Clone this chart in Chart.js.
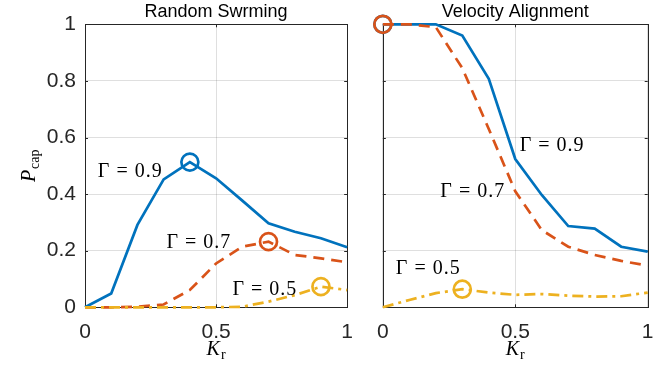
<!DOCTYPE html>
<html>
<head>
<meta charset="utf-8">
<script src="https://cdn.jsdelivr.net/npm/chart.js@4/dist/chart.umd.min.js"></script>
<style>
    html, body { margin: 0; padding: 0; background: #fff; }
    #wrap { position: relative; width: 669px; height: 373px; }
    .panel { position: absolute; top: 0; height: 373px; }
</style>
</head>
<body>
<div id="wrap">
    <div class="panel" style="left:0;width:365px"><canvas id="left" width="365" height="373"></canvas></div>
    <div class="panel" style="left:365px;width:304px"><canvas id="right" width="304" height="373"></canvas></div>
</div>
<script>
// valores
const kr = [0, 0.1, 0.2, 0.3, 0.4, 0.5, 0.6, 0.7, 0.8, 0.9, 1];
const xTicks = [0, 0.5, 1];
const xTickLabels = ['0', '0.5', '1'];
const yTicks = [0, 0.2, 0.4, 0.6, 0.8, 1];
const yTickLabels = ['0', '0.2', '0.4', '0.6', '0.8', '1'];
const gammaLabels = ['Γ = 0.9', 'Γ = 0.7', 'Γ = 0.5'];

// Random Swrming
const randomG09 = [0, 0.049, 0.291, 0.452, 0.513, 0.456, 0.377, 0.297, 0.267, 0.244, 0.212];
const randomG07 = [0, 0, 0.002, 0.01, 0.061, 0.155, 0.214, 0.232, 0.185, 0.173, 0.159];
const randomG05 = [0, 0, 0, 0, 0, 0, 0.002, 0.02, 0.043, 0.073, 0.061];

// Velocity Alignment
const alignG09 = [1, 1, 1, 0.96, 0.807, 0.524, 0.397, 0.287, 0.278, 0.214, 0.197];
const alignG07 = [1, 1, 0.99, 0.845, 0.63, 0.41, 0.273, 0.214, 0.185, 0.164, 0.147];
const alignG05 = [0, 0.026, 0.05, 0.064, 0.052, 0.044, 0.047, 0.041, 0.038, 0.039, 0.052];

// posição dos rótulos Γ (coordenadas dos dados: x, linha de base y)
const randomLabelPos = [[0.049, 0.46], [0.311, 0.21], [0.5625, 0.043]];
const alignLabelPos = [[0.517, 0.552], [0.217, 0.39], [0.049, 0.118]];

const colors = ['#0072BD', '#D95319', '#EDB120'];
const dashes = [[], [11, 7], [11, 5, 3, 5]];
const axisColor = '#262626';
const gridColor = 'rgba(38,38,38,0.15)';
const serif = '"Liberation Serif", "Times New Roman", serif';
const sans = '"Liberation Sans", Arial, sans-serif';

function argmax(arr) {
    let best = 0;
    arr.forEach((v, i) => { if (v > arr[best]) best = i; });
    return best;
}

// moldura, marcas dos ticks e textos em LaTeX-like
function framePlugin(labelPos, showYLabel) {
    return {
        id: 'frame',
        beforeDatasetsDraw(chart) {
            const a = chart.chartArea;
            const ctx = chart.ctx;
            const xs = chart.scales.x, ys = chart.scales.y;
            ctx.save();
            ctx.strokeStyle = axisColor;
            ctx.lineWidth = 1;
            ctx.beginPath();
            yTicks.forEach(v => {
                const y = Math.round(ys.getPixelForValue(v)) + 0.5;
                ctx.moveTo(a.left, y); ctx.lineTo(a.left + 3, y);
                ctx.moveTo(a.right, y); ctx.lineTo(a.right - 3, y);
            });
            xTicks.forEach(v => {
                const x = Math.round(xs.getPixelForValue(v)) + 0.5;
                ctx.moveTo(x, a.bottom); ctx.lineTo(x, a.bottom - 3);
                ctx.moveTo(x, a.top); ctx.lineTo(x, a.top + 3);
            });
            ctx.stroke();
            ctx.strokeRect(Math.round(a.left) + 0.5, Math.round(a.top) + 0.5,
                Math.round(a.right - a.left), Math.round(a.bottom - a.top));
            ctx.restore();
        },
        afterDraw(chart) {
            const a = chart.chartArea;
            const ctx = chart.ctx;
            const xs = chart.scales.x, ys = chart.scales.y;
            ctx.save();
            ctx.fillStyle = '#000';
            ctx.textBaseline = 'alphabetic';
            ctx.textAlign = 'left';

            // rótulos Γ
            ctx.font = '20px ' + serif;
            ctx.letterSpacing = '1px';
            gammaLabels.forEach((t, i) => {
                ctx.fillText(t, xs.getPixelForValue(labelPos[i][0]), ys.getPixelForValue(labelPos[i][1]));
            });
            ctx.letterSpacing = '0px';

            // K_r
            ctx.font = 'italic 20px ' + serif;
            const wK = ctx.measureText('K').width;
            ctx.font = '14px ' + serif;
            const wr = ctx.measureText('r').width;
            const cx = (a.left + a.right) / 2;
            const x0 = cx - (wK + 1 + wr) / 2;
            ctx.font = 'italic 20px ' + serif;
            ctx.fillText('K', x0, 355);
            ctx.font = '14px ' + serif;
            ctx.fillText('r', x0 + wK + 1, 359);

            // P_cap
            if (showYLabel) {
                ctx.translate(35, (a.top + a.bottom) / 2);
                ctx.rotate(-Math.PI / 2);
                ctx.font = 'italic 20px ' + serif;
                const wP = ctx.measureText('P').width;
                ctx.font = '14px ' + serif;
                const wc = ctx.measureText('cap').width;
                const p0 = -(wP + 1 + wc) / 2;
                ctx.font = 'italic 20px ' + serif;
                ctx.fillText('P', p0, 0);
                ctx.font = '14px ' + serif;
                ctx.fillText('cap', p0 + wP + 1, 4);
            }
            ctx.restore();
        }
    };
}

function makeChart(id, title, series, labelPos, yWidth, padRight, showYLabels) {
    const datasets = series.map((s, k) => {
        const peak = argmax(s);
        return {
            data: s.map((v, i) => ({ x: kr[i], y: v })),
            borderColor: colors[k],
            borderWidth: 2.7,
            borderDash: dashes[k],
            tension: 0,
            clip: false,
            order: 3 - k,
            pointRadius: ctx => ctx.dataIndex === peak ? 8.5 : 0,
            pointHoverRadius: ctx => ctx.dataIndex === peak ? 8.5 : 0,
            pointBorderWidth: 2.7,
            pointBorderColor: colors[k],
            pointBackgroundColor: 'rgba(0,0,0,0)'
        };
    });

    return new Chart(document.getElementById(id), {
        type: 'line',
        data: { datasets: datasets },
        options: {
            responsive: false,
            animation: false,
            events: [],
            layout: { padding: { left: 0, right: padRight, top: 0, bottom: 0 } },
            plugins: {
                legend: { display: false },
                tooltip: { enabled: false },
                title: {
                    display: true,
                    text: title,
                    fullSize: false,
                    color: '#000',
                    font: { family: sans, size: 18, weight: 'normal' },
                    padding: { top: 1, bottom: 1.7 }
                }
            },
            scales: {
                x: {
                    type: 'linear',
                    min: 0,
                    max: 1,
                    afterBuildTicks: s => { s.ticks = xTicks.map(v => ({ value: v })); },
                    afterFit: s => { s.height = 65.7; },
                    ticks: {
                        callback: (v, i) => xTickLabels[i],
                        color: axisColor,
                        font: { family: sans, size: 21 },
                        padding: 12,
                        maxRotation: 0,
                        autoSkip: false
                    },
                    grid: { color: gridColor, drawTicks: false },
                    border: { display: false }
                },
                y: {
                    type: 'linear',
                    min: 0,
                    max: 1,
                    afterBuildTicks: s => { s.ticks = yTicks.map(v => ({ value: v })); },
                    afterFit: s => { s.width = yWidth; },
                    ticks: {
                        display: showYLabels,
                        callback: (v, i) => yTickLabels[i],
                        color: axisColor,
                        font: { family: sans, size: 21 },
                        padding: 9
                    },
                    grid: { color: gridColor, drawTicks: false },
                    border: { display: false }
                }
            }
        },
        plugins: [framePlugin(labelPos, showYLabels)]
    });
}

makeChart('left', 'Random Swrming', [randomG09, randomG07, randomG05], randomLabelPos, 85, 13.3, true);
makeChart('right', 'Velocity Alignment', [alignG09, alignG07, alignG05], alignLabelPos, 16, 21.3, false);
</script>
</body>
</html>
